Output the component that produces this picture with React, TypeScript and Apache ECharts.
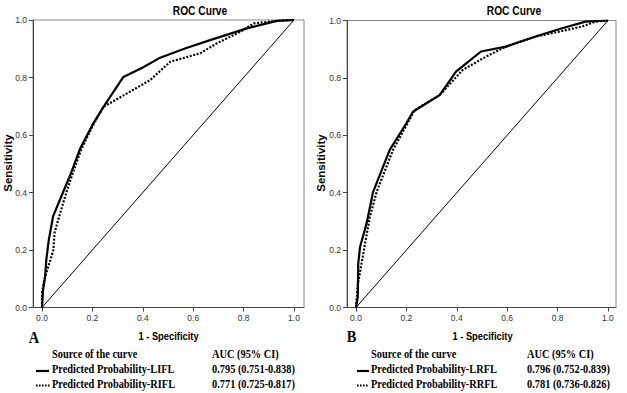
import React, { useEffect, useRef } from "react";
import * as echarts from "echarts";

// Panel A
const solidA: [number, number][] = [
  [0, 0], [0.004, 0.06], [0.012, 0.105], [0.017, 0.165], [0.027, 0.235], [0.044, 0.317],
  [0.077, 0.387], [0.116, 0.469], [0.15, 0.55], [0.2, 0.635], [0.244, 0.698], [0.323, 0.802],
  [0.4, 0.835], [0.469, 0.869], [0.57, 0.902], [0.667, 0.93], [0.813, 0.971], [0.932, 0.997], [1, 1],
];
const dottedA: [number, number][] = [
  [0, 0], [0, 0.05], [0.01, 0.1], [0.024, 0.14], [0.035, 0.17], [0.045, 0.2], [0.05, 0.26],
  [0.066, 0.31], [0.093, 0.39], [0.123, 0.47], [0.156, 0.55], [0.2, 0.63], [0.244, 0.698],
  [0.336, 0.744], [0.429, 0.791], [0.509, 0.855], [0.628, 0.884], [0.694, 0.919], [0.787, 0.959],
  [0.84, 0.988], [0.932, 0.997], [1, 1],
];
// Panel B
const solidB: [number, number][] = [
  [0, 0], [0.007, 0.037], [0.009, 0.153], [0.016, 0.211], [0.042, 0.293], [0.068, 0.403],
  [0.134, 0.549], [0.2, 0.642], [0.226, 0.682], [0.332, 0.74], [0.397, 0.822], [0.496, 0.892],
  [0.595, 0.909], [0.713, 0.944], [0.818, 0.973], [0.911, 0.996], [1, 1],
];
const dottedB: [number, number][] = [
  [0, 0], [0.008, 0.084], [0.022, 0.153], [0.036, 0.223], [0.055, 0.316], [0.082, 0.403],
  [0.147, 0.549], [0.233, 0.688], [0.332, 0.74], [0.424, 0.828], [0.516, 0.874], [0.595, 0.909],
  [0.713, 0.944], [0.805, 0.961], [0.897, 0.979], [0.95, 0.996], [1, 1],
];
const diagonal: [number, number][] = [[0, 0], [1, 1]];
const tickValues = [0, 0.2, 0.4, 0.6, 0.8, 1.0];

const panelTitles = ["ROC Curve", "ROC Curve"];
const panelLetters = ["A", "B"];
const tableHeader = ["Source of the curve", "AUC (95% CI)"];
const curveNamesA = ["Predicted Probability-LIFL", "Predicted Probability-RIFL"];
const aucA = ["0.795 (0.751-0.838)", "0.771 (0.725-0.817)"];
const curveNamesB = ["Predicted Probability-LRFL", "Predicted Probability-RRFL"];
const aucB = ["0.796 (0.752-0.839)", "0.781 (0.736-0.826)"];
const xName = "1 - Specificity";
const yName = "Sensitivity";

const SANS = "Liberation Sans";
const SERIF = "Liberation Serif";

function xAxisCfg(gridIndex: number, min: number, max: number) {
  return {
    type: "value",
    gridIndex,
    min,
    max,
    splitLine: { show: false },
    axisLine: { show: true, onZero: false, lineStyle: { color: "#444", width: 1 } },
    axisTick: { show: true, length: 4, customValues: tickValues, lineStyle: { color: "#444" } },
    axisLabel: {
      customValues: tickValues,
      formatter: (v: number) => v.toFixed(1),
      fontSize: 8.5,
      fontFamily: SANS,
      color: "#333",
      margin: 6,
    },
  };
}
function yAxisCfg(gridIndex: number) {
  return {
    type: "value",
    gridIndex,
    min: 0,
    max: 1,
    interval: 0.2,
    splitLine: { show: false },
    axisLine: { show: true, onZero: false, lineStyle: { color: "#444", width: 1 } },
    axisTick: { show: true, length: 4, lineStyle: { color: "#444" } },
    axisLabel: {
      formatter: (v: number) => v.toFixed(1),
      fontSize: 8.5,
      fontFamily: SANS,
      color: "#333",
      margin: 6,
    },
  };
}

function txt(x: number, y: number, text: string, opts: any = {}) {
  const { fontSize = 12.5, fontFamily = SERIF, fontWeight = "bold", align = "left", rotation = 0, scaleX = 0.83 } = opts;
  return {
    type: "text",
    x,
    y,
    rotation,
    scaleX,
    silent: true,
    style: {
      text,
      fontSize,
      fontFamily,
      fontWeight,
      fill: "#000",
      align,
      verticalAlign: "middle",
    },
  };
}

function legendLine(x1: number, x2: number, y: number, dashed: boolean) {
  return {
    type: "line",
    silent: true,
    shape: { x1, y1: y, x2, y2: y },
    style: { stroke: "#000", lineWidth: 2.2, lineDash: dashed ? [1.6, 1.4] : null },
  };
}

export default function App() {
  const ref = useRef<HTMLDivElement>(null);
  useEffect(() => {
    if (!ref.current) return;
    const chart = echarts.init(ref.current, undefined, { renderer: "svg" });
    const lineSeries = (data: [number, number][], idx: number, dashed: boolean, width: number) => ({
      type: "line",
      xAxisIndex: idx,
      yAxisIndex: idx,
      data,
      showSymbol: false,
      symbol: "none",
      smooth: false,
      lineStyle: { color: "#000", width, type: dashed ? [2, 1.6] : "solid" },
      silent: true,
    });
    chart.setOption({
      animation: false,
      backgroundColor: "#fff",
      grid: [
        { left: 33, top: 20, width: 271, height: 287.5, show: true, borderColor: "#888", borderWidth: 1 },
        { left: 347, top: 20.5, width: 269, height: 287, show: true, borderColor: "#888", borderWidth: 1 },
      ],
      xAxis: [xAxisCfg(0, -0.0357, 1.0397), xAxisCfg(1, -0.0357, 1.032)],
      yAxis: [yAxisCfg(0), yAxisCfg(1)],
      series: [
        lineSeries(diagonal, 0, false, 1),
        lineSeries(dottedA, 0, true, 2.2),
        lineSeries(solidA, 0, false, 2.2),
        lineSeries(diagonal, 1, false, 1),
        lineSeries(dottedB, 1, true, 2.2),
        lineSeries(solidB, 1, false, 2.2),
      ],
      graphic: [
        txt(200, 11, panelTitles[0], { fontFamily: SANS, fontSize: 12, align: "center", scaleX: 0.85 }),
        txt(514, 11, panelTitles[1], { fontFamily: SANS, fontSize: 12, align: "center", scaleX: 0.85 }),
        txt(8, 163, yName, { fontFamily: SANS, fontSize: 11.5, align: "center", rotation: Math.PI / 2, scaleX: 1 }),
        txt(321, 163, yName, { fontFamily: SANS, fontSize: 11.5, align: "center", rotation: Math.PI / 2, scaleX: 1 }),
        txt(168.5, 336, xName, { fontFamily: SANS, fontSize: 11, align: "center", scaleX: 0.85 }),
        txt(482.5, 336.5, xName, { fontFamily: SANS, fontSize: 11, align: "center", scaleX: 0.85 }),
        txt(34, 337, panelLetters[0], { fontSize: 17, align: "center", scaleX: 0.85 }),
        txt(351.5, 336, panelLetters[1], { fontSize: 17, align: "center", scaleX: 0.85 }),
        // Table A
        txt(52, 354, tableHeader[0]),
        txt(212, 354, tableHeader[1]),
        txt(52, 369, curveNamesA[0]),
        txt(212, 369, aucA[0]),
        txt(52, 383.5, curveNamesA[1]),
        txt(212, 383.5, aucA[1]),
        legendLine(36, 49, 371, false),
        legendLine(36, 50, 385.5, true),
        // Table B
        txt(371, 354, tableHeader[0]),
        txt(527, 354, tableHeader[1]),
        txt(371, 369, curveNamesB[0]),
        txt(527, 369, aucB[0]),
        txt(371, 383.5, curveNamesB[1]),
        txt(527, 383.5, aucB[1]),
        legendLine(357, 369, 371, false),
        legendLine(357, 369, 385.5, true),
      ],
    });
    return () => chart.dispose();
  }, []);
  return (
    <div
      ref={ref}
      style={{ position: "fixed", left: 0, top: 0, width: 627, height: 393, background: "#fff" }}
    />
  );
}
